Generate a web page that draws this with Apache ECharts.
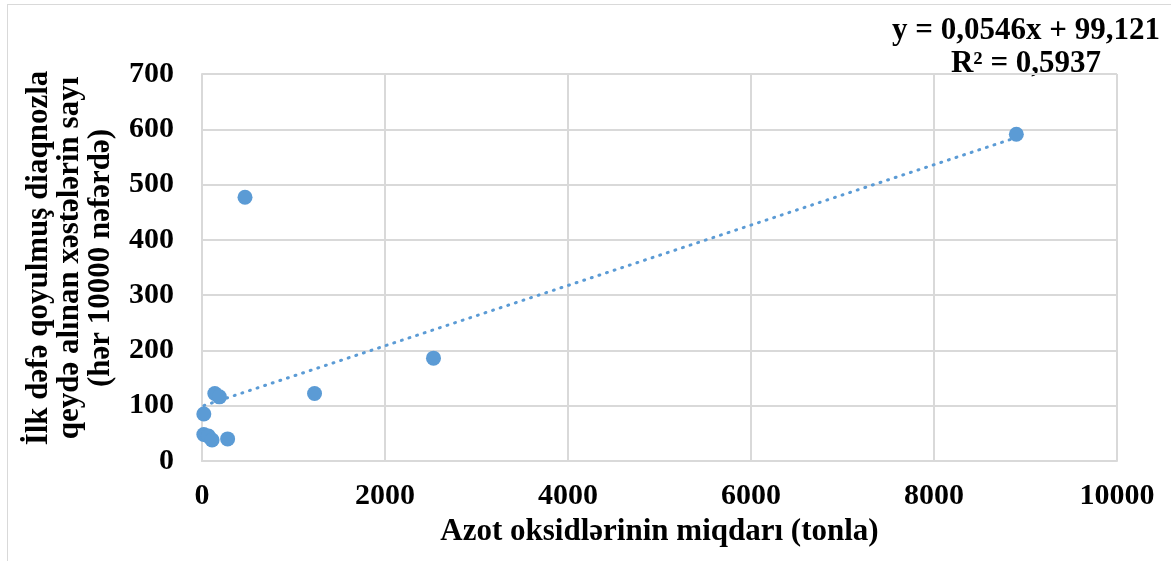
<!DOCTYPE html>
<html><head><meta charset="utf-8">
<script src="https://cdn.jsdelivr.net/npm/echarts@6/dist/echarts.min.js"></script>
<style>
html,body{margin:0;padding:0;background:#fff;}
#frame{position:absolute;left:7px;top:4px;width:1170px;height:560px;border:1px solid #d9d9d9;box-sizing:border-box;}
#c{position:absolute;left:0;top:0;width:1171px;height:561px;}
</style></head>
<body><div id="frame"></div><div id="c"></div>
<script>
const xValues = [8900, 470, 2530, 1230, 140, 190, 20, 20, 70, 110, 280];
const yValues = [591, 477, 186, 122, 122, 116, 85, 48, 45, 38, 40];
const slope = 0.0546, intercept = 99.121;
const eqText = 'y = 0,0546x + 99,121';
const r2Text = 'R² = 0,5937';
const xTitle = 'Azot oksidlərinin miqdarı (tonla)';
const yTitleLines = ['İlk dəfə qoyulmuş diaqnozla', 'qeydə alınan xəstələrin sayı', '(hər 10000 nəfərdə)'];

const pts = xValues.map((x, i) => [x, yValues[i]]);
const xmin = Math.min(...xValues), xmax = Math.max(...xValues);
const trend = [[xmin, slope * xmin + intercept], [xmax, slope * xmax + intercept]];

const chart = echarts.init(document.getElementById('c'));
const font = '"Liberation Serif", "Times New Roman", serif';
chart.setOption({
  animation: false,
  grid: {left: 202, right: 54, top: 74, bottom: 100},
  xAxis: {
    type: 'value', min: 0, max: 10000, interval: 2000,
    axisLine: {show: true, lineStyle: {color: '#d9d9d9', width: 2}},
    axisTick: {show: false},
    splitLine: {show: true, lineStyle: {color: '#d9d9d9', width: 2}},
    axisLabel: {color: '#000', fontFamily: font, fontWeight: 'bold', fontSize: 30, margin: 20,
      formatter: v => String(v)},
    name: xTitle, nameLocation: 'middle', nameGap: 55,
    nameTextStyle: {color: '#000', fontFamily: font, fontWeight: 'bold', fontSize: 31}
  },
  yAxis: {
    type: 'value', min: 0, max: 700, interval: 100,
    axisLine: {show: true, lineStyle: {color: '#d9d9d9', width: 2}},
    axisTick: {show: false},
    splitLine: {show: true, lineStyle: {color: '#d9d9d9', width: 2}},
    axisLabel: {color: '#000', fontFamily: font, fontWeight: 'bold', fontSize: 30, margin: 28,
      formatter: v => String(v)}
  },
  graphic: [
    {type: 'text', x: 70, y: 258, rotation: Math.PI / 2,
      style: {text: yTitleLines.join('\n'), font: 'bold 31px ' + font, fill: '#000',
        align: 'center', verticalAlign: 'middle', lineHeight: 31}},
    {type: 'text', x: 1026, y: 31,
      style: {text: eqText, font: 'bold 31px ' + font, fill: '#000', align: 'center', verticalAlign: 'middle'}},
    {type: 'text', x: 1026, y: 64,
      style: {text: r2Text, font: 'bold 31px ' + font, fill: '#000', align: 'center', verticalAlign: 'middle'}}
  ],
  series: [
    {type: 'line', data: trend, showSymbol: false, silent: true,
      lineStyle: {color: '#5b9bd5', width: 3, type: [1, 7], cap: 'round'}, z: 1},
    {type: 'scatter', data: pts, symbol: 'circle', symbolSize: 15,
      itemStyle: {color: '#5b9bd5', opacity: 1}, z: 2}
  ]
});
</script></body></html>
